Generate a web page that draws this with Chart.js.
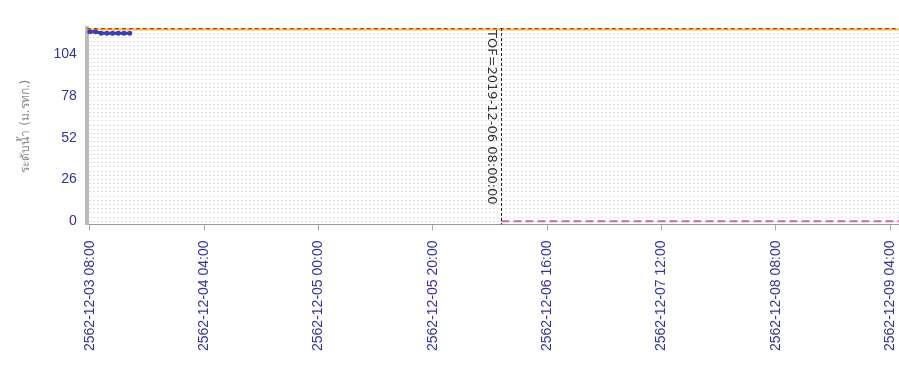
<!DOCTYPE html>
<html>
<head>
<meta charset="utf-8">
<script src="https://cdn.jsdelivr.net/npm/chart.js@4"></script>
<style>
  html, body { margin: 0; padding: 0; background: #fff; overflow: hidden; }
  #wrap { width: 917px; height: 367px; }
</style>
</head>
<body>
<div id="wrap"><canvas id="chart"></canvas></div>
<script>
// hours counted from 2562-12-03 08:00
const levelHours = [0, 1, 2, 3, 4, 5, 6, 7];
const levelValues = [117.8, 117.8, 117.0, 117.0, 117.0, 117.0, 117.0, 117.0];
const bankHours = [-0.5, 141.6];
const bankValues = [120, 120];
const zeroHours = [72, 141.6];
const zeroValues = [0, 0];
const tofHour = 72;
const tofLabel = 'TOF=2019-12-06 08:00:00';
const xTicks = [0, 20, 40, 60, 80, 100, 120, 140];
const yTicks = [0, 26, 52, 78, 104];

function pts(xs, ys) {
    return xs.map((x, i) => ({ x: x, y: ys[i] }));
}

function hourLabel(h) {
    const total = 8 + h;
    const day = 3 + Math.floor(total / 24);
    const hr = total % 24;
    return '2562-12-' + String(day).padStart(2, '0') + ' ' + String(hr).padStart(2, '0') + ':00';
}

// vertical TOF line with its label
const tofLine = {
    id: 'tofLine',
    afterDatasetsDraw(chart) {
        const ctx = chart.ctx;
        const area = chart.chartArea;
        const x = Math.round(chart.scales.x.getPixelForValue(tofHour));
        ctx.save();
        ctx.strokeStyle = '#222';
        ctx.lineWidth = 1;
        ctx.setLineDash([3, 2]);
        ctx.beginPath();
        ctx.moveTo(x + 0.5, area.top);
        ctx.lineTo(x + 0.5, area.bottom);
        ctx.stroke();
        ctx.setLineDash([]);
        ctx.translate(x - 10, area.top + 2);
        ctx.rotate(Math.PI / 2);
        ctx.fillStyle = '#333';
        ctx.font = '13px "DejaVu Sans"';
        ctx.textBaseline = 'middle';
        ctx.textAlign = 'left';
        ctx.fillText(tofLabel, 0, 0);
        ctx.restore();
    }
};

new Chart(document.getElementById('chart'), {
    type: 'line',
    data: {
        // first dataset is painted last (on top)
        datasets: [
            {
                data: pts(levelHours, levelValues),
                borderColor: '#3a3fb0',
                backgroundColor: '#3a3fb0',
                borderWidth: 3,
                pointRadius: 1
            },
            {
                data: pts(zeroHours, zeroValues),
                borderColor: '#cc6aa8',
                borderWidth: 2,
                borderDash: [8, 4],
                pointRadius: 0
            },
            {
                data: pts(bankHours, bankValues),
                borderColor: '#d03020',
                borderWidth: 2,
                borderDash: [4, 3],
                pointRadius: 0
            },
            {
                data: pts(bankHours, bankValues.map(v => v - 0.8)),
                borderColor: '#f0c040',
                borderWidth: 2,
                pointRadius: 0
            }
        ]
    },
    options: {
        responsive: true,
        maintainAspectRatio: false,
        animation: false,
        layout: { padding: { top: 28, right: 0, left: 13, bottom: 6 } },
        plugins: {
            legend: { display: false },
            tooltip: { enabled: false }
        },
        scales: {
            x: {
                type: 'linear',
                min: -0.52,
                max: 141.57,
                afterBuildTicks(scale) {
                    scale.ticks = xTicks.map(v => ({ value: v }));
                },
                ticks: {
                    minRotation: 90,
                    maxRotation: 90,
                    color: '#33339a',
                    padding: 10,
                    font: { family: 'Liberation Sans', size: 14 },
                    callback: v => hourLabel(v)
                },
                grid: {
                    drawOnChartArea: false,
                    tickLength: 6,
                    color: '#aaa'
                },
                border: { color: '#999' }
            },
            y: {
                min: -2,
                max: 120.2,
                afterBuildTicks(scale) {
                    const t = [];
                    for (let i = 0; i <= 46; i++) t.push({ value: Math.round(i * 26) / 10 });
                    scale.ticks = t;
                },
                ticks: {
                    color: '#33339a',
                    padding: 10,
                    font: { family: 'Liberation Sans', size: 14 },
                    autoSkip: false,
                    callback: v => yTicks.includes(v) ? String(v) : ''
                },
                grid: {
                    color: '#e0e0e0',
                    tickLength: 0
                },
                border: { color: '#bbb', width: 4, dash: [2, 2] },
                title: {
                    display: true,
                    text: 'ระดับน้ำ (ม.รทก.)',
                    color: '#888',
                    padding: { top: 6, bottom: 10 },
                    font: { family: 'DejaVu Sans', size: 12 }
                }
            }
        }
    },
    plugins: [tofLine]
});
</script>
</body>
</html>
